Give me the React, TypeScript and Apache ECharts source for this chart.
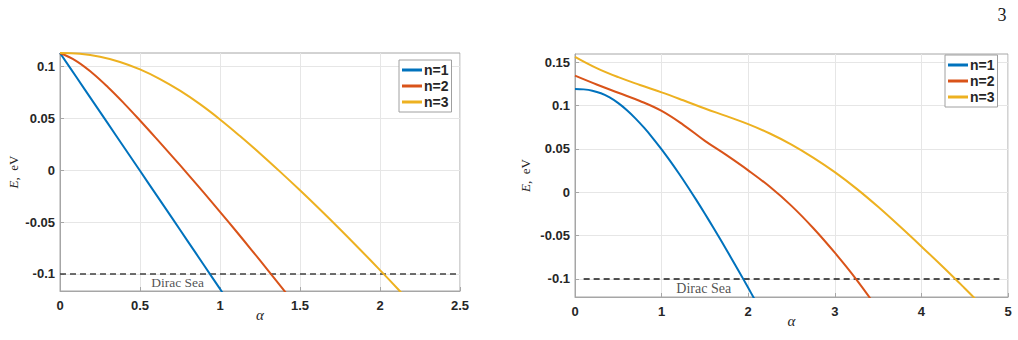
import React, { useEffect, useRef } from "react";
import * as echarts from "echarts";

// Legend entries and MATLAB-style line colours
const LEVELS = ["n=1", "n=2", "n=3"];
const COLORS = ["#0072BD", "#D95319", "#EDB120"];

// Left panel: energy levels E(α), eV
const leftAlphaN1 = [0, 0.1, 0.2, 0.3, 0.4, 0.5, 0.6, 0.7, 0.8, 0.9, 1.0, 1.03];
const leftEnergyN1 = [0.1129, 0.0902, 0.0675, 0.0448, 0.0221, -0.0006, -0.0233, -0.046, -0.0688, -0.0916, -0.1144, -0.1213];
const leftAlphaN2 = [0, 0.1, 0.2, 0.3, 0.4, 0.5, 0.6, 0.7, 0.8, 0.9, 1.0, 1.1, 1.2, 1.3, 1.4, 1.43];
const leftEnergyN2 = [0.1129, 0.1054, 0.0939, 0.0799, 0.0644, 0.0479, 0.0309, 0.0136, -0.004, -0.0219, -0.0401, -0.0586, -0.0774, -0.0965, -0.1159, -0.1217];
const leftAlphaN3 = [0, 0.125, 0.25, 0.375, 0.5, 0.625, 0.75, 0.875, 1.0, 1.125, 1.25, 1.375, 1.5, 1.625, 1.75, 1.875, 2.0, 2.125, 2.15];
const leftEnergyN3 = [0.1129, 0.1121, 0.1093, 0.1043, 0.0971, 0.0878, 0.0766, 0.0636, 0.0489, 0.0329, 0.0161, -0.0014, -0.0194, -0.0379, -0.0569, -0.0764, -0.0963, -0.1166, -0.1207];

// Right panel: energy levels E(α), eV
const rightAlphaN1 = [0, 0.1, 0.2, 0.3, 0.4, 0.5, 0.6, 0.7, 0.8, 0.9, 1.0, 1.1, 1.2, 1.3, 1.4, 1.5, 1.6, 1.7, 1.8, 1.9, 2.0, 2.1];
const rightEnergyN1 = [0.1192, 0.1187, 0.1172, 0.1142, 0.1094, 0.1028, 0.0946, 0.085, 0.0742, 0.0623, 0.0495, 0.0359, 0.0216, 0.0067, -0.0088, -0.0248, -0.0412, -0.058, -0.0751, -0.0925, -0.1102, -0.1282];
const rightAlphaN2 = [0, 0.25, 0.5, 0.75, 1.0, 1.25, 1.5, 1.75, 2.0, 2.25, 2.5, 2.75, 3.0, 3.25, 3.5];
const rightEnergyN2 = [0.1345, 0.1243, 0.1148, 0.1053, 0.0938, 0.0778, 0.0593, 0.0428, 0.0253, 0.0063, -0.0157, -0.0412, -0.0697, -0.1007, -0.1352];
const rightAlphaN3 = [0, 0.25, 0.5, 0.75, 1.0, 1.25, 1.5, 1.75, 2.0, 2.25, 2.5, 2.75, 3.0, 3.25, 3.5, 3.75, 4.0, 4.25, 4.5, 4.65];
const rightEnergyN3 = [0.1563, 0.1433, 0.1328, 0.1238, 0.1153, 0.1061, 0.0966, 0.0878, 0.0786, 0.0678, 0.055, 0.04, 0.0232, 0.0042, -0.0168, -0.0393, -0.0625, -0.0862, -0.1107, -0.1258];

// Dirac sea threshold and its label anchors
const diracLevel = -0.1;
const leftDiracSpan = [0, 2.5];
const rightDiracSpan = [0.1, 4.9];
const leftDiracLabel = [0.57, -0.108];
const rightDiracLabel = [1.17, -0.111];

// Axis ranges and tick values
const leftXRange = [0, 2.5];
const leftYRange = [-0.1164, 0.1129];
const leftYTicks = [-0.1, -0.05, 0, 0.05, 0.1];
const rightXRange = [0, 5];
const rightYRange = [-0.1208, 0.1595];
const rightYTicks = [-0.1, -0.05, 0, 0.05, 0.1, 0.15];

const zip = (xs: number[], ys: number[]) => xs.map((x, i) => [x, ys[i]]);

const AXIS_GRAY = "#a6a6a6";
const GRID_GRAY = "#e6e6e6";
const TICK_FONT = {
  fontFamily: "Liberation Sans, Arial, sans-serif",
  fontWeight: "bold" as const,
  fontSize: 13,
  color: "#262626",
};

function xAxisFor(gridIndex: number, range: number[], interval: number) {
  return {
    type: "value",
    gridIndex,
    min: range[0],
    max: range[1],
    interval,
    name: "α",
    nameLocation: "middle",
    nameGap: 16,
    nameMoveOverlap: false,
    nameTextStyle: {
      fontFamily: "Liberation Serif, Times New Roman, serif",
      fontStyle: "italic",
      fontSize: 15,
      color: "#262626",
    },
    axisLine: { onZero: false, lineStyle: { color: AXIS_GRAY, width: 1 } },
    axisTick: { inside: true, length: 4, lineStyle: { color: AXIS_GRAY } },
    axisLabel: { ...TICK_FONT, margin: 8, showMaxLabel: true, showMinLabel: true },
    splitLine: { show: true, lineStyle: { color: GRID_GRAY, width: 1 } },
  };
}

function yAxisFor(gridIndex: number, range: number[], ticks: number[], nameGap: number) {
  return {
    type: "value",
    gridIndex,
    min: range[0],
    max: range[1],
    name: "{i|E},  eV",
    nameLocation: "middle",
    nameRotate: 90,
    nameGap,
    nameMoveOverlap: false,
    nameTextStyle: {
      fontFamily: "Liberation Serif, Times New Roman, serif",
      fontSize: 13,
      color: "#262626",
      rich: {
        i: {
          fontFamily: "Liberation Serif, Times New Roman, serif",
          fontStyle: "italic",
          fontSize: 13,
          color: "#262626",
        },
      },
    },
    axisLine: { onZero: false, lineStyle: { color: AXIS_GRAY, width: 1 } },
    axisTick: { inside: true, length: 4, customValues: ticks, lineStyle: { color: AXIS_GRAY } },
    axisLabel: { ...TICK_FONT, margin: 5, customValues: ticks },
    splitLine: { show: true, lineStyle: { color: GRID_GRAY, width: 1 } },
  };
}

function levelSeries(name: string, color: string, data: number[][], idx: number) {
  return {
    type: "line",
    name,
    xAxisIndex: idx,
    yAxisIndex: idx,
    data,
    smooth: 0.4,
    symbol: "none",
    clip: true,
    lineStyle: { color, width: 2 },
    itemStyle: { color },
    z: 3,
  };
}

function diracSeries(span: number[], idx: number, color: string) {
  return {
    type: "line",
    name: "Dirac Sea",
    xAxisIndex: idx,
    yAxisIndex: idx,
    data: span.map((x) => [x, diracLevel]),
    symbol: "none",
    silent: true,
    lineStyle: { color, width: 1.5, type: [6, 4] },
    z: 2,
  };
}

function diracLabel(pos: number[], idx: number, fontSize: number) {
  return {
    type: "scatter",
    name: "Dirac Sea label",
    xAxisIndex: idx,
    yAxisIndex: idx,
    data: [pos],
    symbolSize: 0,
    silent: true,
    label: {
      show: true,
      position: "right",
      distance: 0,
      formatter: "Dirac Sea",
      fontFamily: "Liberation Serif, Times New Roman, serif",
      fontSize,
      color: "#262626",
    },
  };
}

function legendFor(left: number, top: number) {
  return {
    data: LEVELS,
    orient: "vertical",
    left,
    top,
    icon: "rect",
    itemWidth: 20,
    itemHeight: 3,
    itemGap: 2,
    padding: [3, 3, 3, 3],
    borderColor: "#a0a0a0",
    borderWidth: 1,
    backgroundColor: "#ffffff",
    selectedMode: false,
    textStyle: {
      fontFamily: "Liberation Sans, Arial, sans-serif",
      fontWeight: "bold",
      fontSize: 14,
      color: "#262626",
      padding: [0, 0, 0, -3],
    },
  };
}

export default function App() {
  const ref = useRef<HTMLDivElement>(null);

  useEffect(() => {
    if (!ref.current) return;
    const chart = echarts.init(ref.current, undefined, { renderer: "svg" });

    const leftLevels = [
      zip(leftAlphaN1, leftEnergyN1),
      zip(leftAlphaN2, leftEnergyN2),
      zip(leftAlphaN3, leftEnergyN3),
    ];
    const rightLevels = [
      zip(rightAlphaN1, rightEnergyN1),
      zip(rightAlphaN2, rightEnergyN2),
      zip(rightAlphaN3, rightEnergyN3),
    ];

    chart.setOption({
      animation: false,
      backgroundColor: "#ffffff",
      grid: [
        { left: 60, top: 53, width: 400, height: 238, show: true, borderColor: AXIS_GRAY, borderWidth: 1, backgroundColor: "transparent" },
        { left: 575, top: 54, width: 433, height: 243, show: true, borderColor: AXIS_GRAY, borderWidth: 1, backgroundColor: "transparent" },
      ],
      xAxis: [xAxisFor(0, leftXRange, 0.5), xAxisFor(1, rightXRange, 1)],
      yAxis: [yAxisFor(0, leftYRange, leftYTicks, 40), yAxisFor(1, rightYRange, rightYTicks, 43)],
      legend: [legendFor(399, 60), legendFor(945, 55)],
      graphic: [
        {
          type: "text",
          x: 1002,
          y: 15,
          style: {
            text: "3",
            fontFamily: "Liberation Serif, Times New Roman, serif",
            fontSize: 18,
            fill: "#1a1a1a",
            align: "center",
            verticalAlign: "middle",
          },
        },
      ],
      series: [
        diracSeries(leftDiracSpan, 0, "#404040"),
        diracSeries(rightDiracSpan, 1, "#1a1a1a"),
        ...leftLevels.map((d, i) => levelSeries(LEVELS[i], COLORS[i], d, 0)),
        ...rightLevels.map((d, i) => levelSeries(LEVELS[i], COLORS[i], d, 1)),
        diracLabel(leftDiracLabel, 0, 13.5),
        diracLabel(rightDiracLabel, 1, 14),
      ],
    });

    return () => chart.dispose();
  }, []);

  return (
    <div
      ref={ref}
      style={{ position: "fixed", left: 0, top: 0, width: 1018, height: 340, background: "#ffffff" }}
    />
  );
}
